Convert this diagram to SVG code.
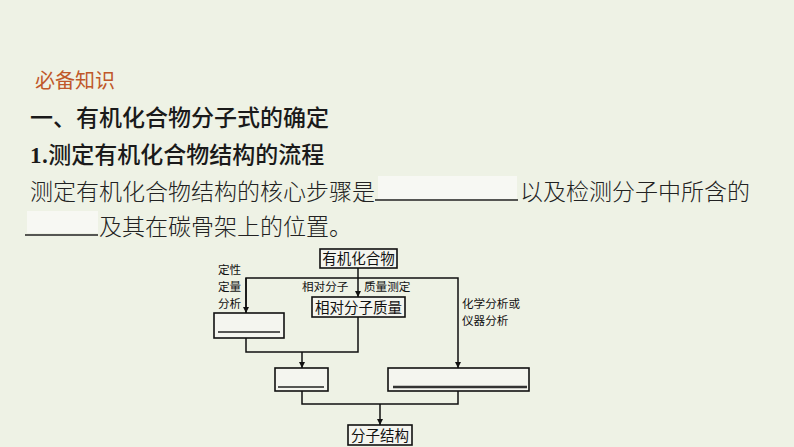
<svg xmlns="http://www.w3.org/2000/svg" width="794" height="447" viewBox="0 0 794 447">
<defs>
<style>
.t{font-family:"Noto Sans CJK SC","Noto Sans",sans-serif}
.h{font-size:23px;fill:#1a1a1a;font-weight:500}
.b{font-size:23px;fill:#222;font-weight:300}
.lbl{font-size:11.6px;fill:#111}
.bx{font-size:14.5px;fill:#111}
.box{fill:#f4f5ef;stroke:#111;stroke-width:1.6}
.ln{fill:none;stroke:#111;stroke-width:1.5}
.ul{stroke:#222;stroke-width:1.6}
.blank{fill:#f7f8f3}
</style>
<marker id="ar" viewBox="0 0 10 10" refX="10" refY="5" markerWidth="6" markerHeight="7" markerUnits="userSpaceOnUse" orient="auto">
<path d="M0,0 L10,5 L0,10 z" fill="#111"/>
</marker>
</defs>
<rect width="794" height="447" fill="#eef2e5"/>

<text class="t" x="35" y="88" font-size="20" fill="#c0582a">必备知识</text>
<text class="t h" x="30" y="126">一、有机化合物分子式的确定</text>
<text class="t h" x="30" y="163"><tspan font-family="Liberation Serif,serif" font-weight="bold">1</tspan>.测定有机化合物结构的流程</text>
<text class="t b" x="30" y="200">测定有机化合物结构的核心步骤是</text>
<rect class="blank" x="378" y="176" width="139" height="23"/>
<line class="ul" x1="375" y1="200" x2="518" y2="200"/>
<text class="t b" x="520" y="200">以及检测分子中所含的</text>
<rect class="blank" x="27" y="211" width="71" height="22"/>
<line class="ul" x1="25" y1="235" x2="98" y2="235"/>
<text class="t b" x="99" y="235">及其在碳骨架上的位置。</text>

<g id="connectors">
<line class="ln" x1="358" y1="268" x2="358" y2="297" marker-end="url(#ar)"/>
<polyline class="ln" points="246,313 246,278 458,278 458,368" marker-end="url(#ar)"/>
<line class="ln" x1="246" y1="278" x2="246" y2="313" marker-end="url(#ar)"/>
<polyline class="ln" points="246,338 246,352 358,352 358,317"/>
<line class="ln" x1="302" y1="352" x2="302" y2="368" marker-end="url(#ar)"/>
<polyline class="ln" points="302,391 302,404 458,404 458,391"/>
<line class="ln" x1="380" y1="404" x2="380" y2="425" marker-end="url(#ar)"/>
</g>

<g id="labels">
<text class="t lbl" x="218" y="274">定性</text>
<text class="t lbl" x="218" y="291">定量</text>
<text class="t lbl" x="218" y="308">分析</text>
<text class="t lbl" x="302" y="291">相对分子</text>
<text class="t lbl" x="364" y="291">质量测定</text>
<text class="t lbl" x="462" y="308">化学分析或</text>
<text class="t lbl" x="462" y="325">仪器分析</text>
</g>

<g id="n-organic">
<rect class="box" x="320" y="249" width="77" height="19"/>
<text class="t bx" x="358.5" y="264" text-anchor="middle">有机化合物</text>
</g>
<g id="n-mass">
<rect class="box" x="312" y="297" width="93" height="20"/>
<text class="t bx" x="358.5" y="312.5" text-anchor="middle">相对分子质量</text>
</g>
<g id="n-blank1">
<rect class="box" x="214" y="313" width="70" height="25"/>
<line class="ul" x1="218" y1="332" x2="280" y2="332"/>
</g>
<g id="n-blank2">
<rect class="box" x="275" y="368" width="53" height="23"/>
<line class="ul" x1="278" y1="387" x2="324" y2="387"/>
</g>
<g id="n-blank3">
<rect class="box" x="388" y="368" width="141" height="23"/>
<line x1="393" y1="387" x2="527" y2="387" stroke="#333" stroke-width="2.6"/>
</g>
<g id="n-structure">
<rect class="box" x="348" y="425" width="64" height="20"/>
<text class="t bx" x="380" y="440.5" text-anchor="middle">分子结构</text>
</g>
</svg>
